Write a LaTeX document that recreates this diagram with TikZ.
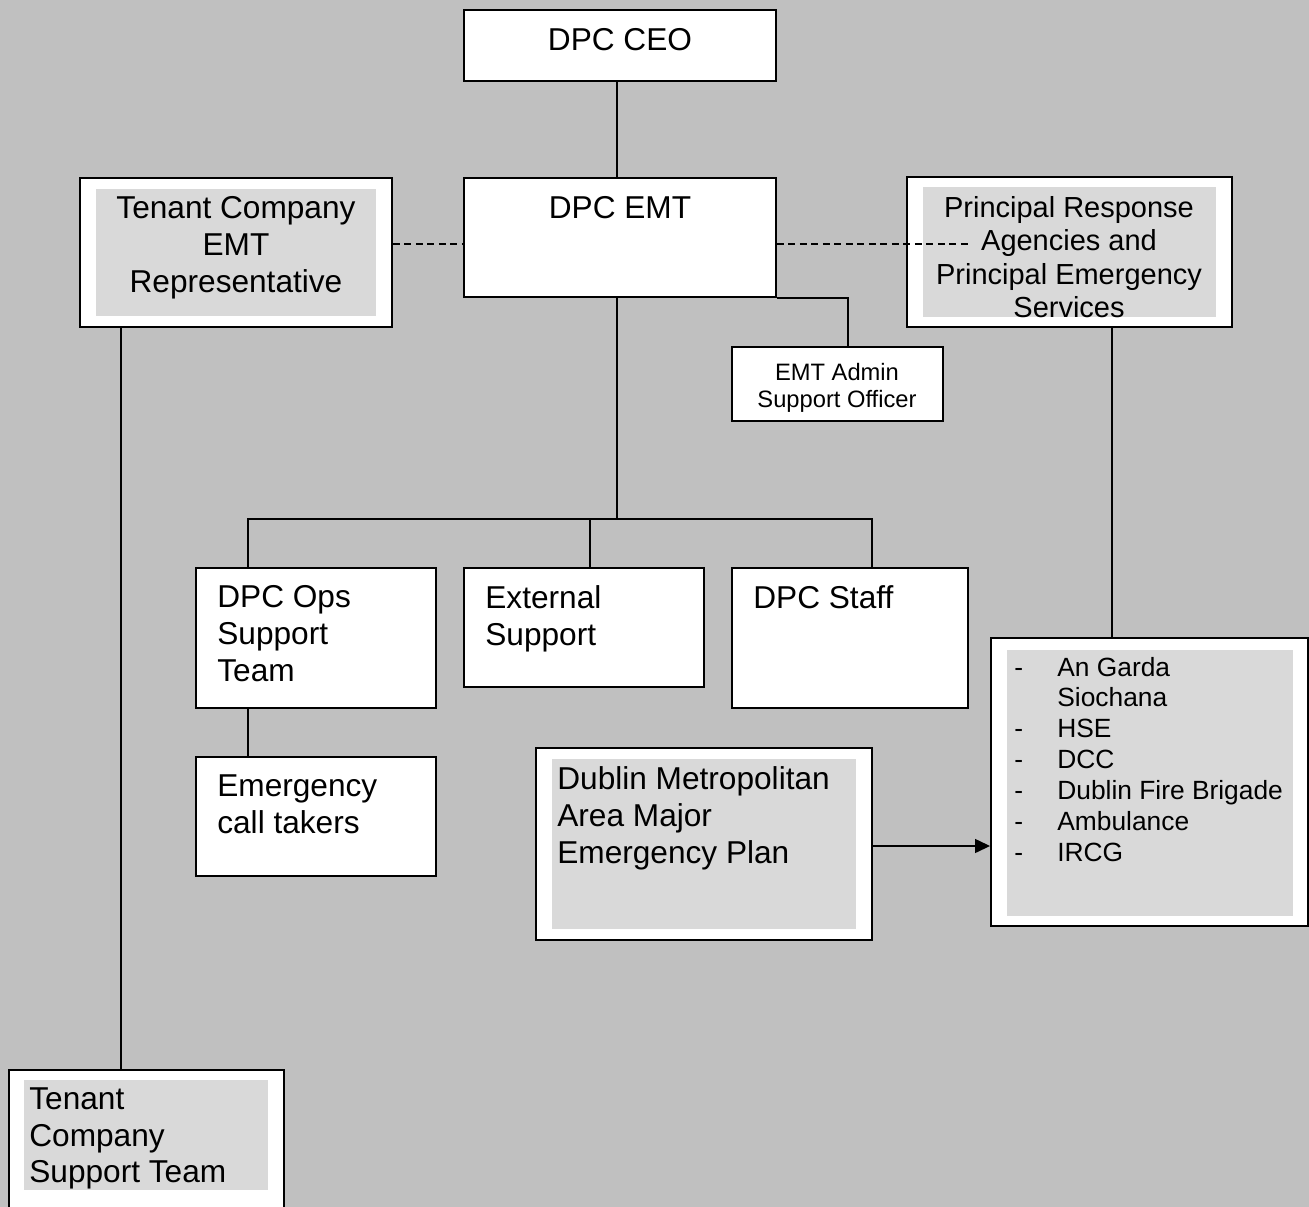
\documentclass[tikz,border=0pt]{standalone}
\usepackage{fontspec}
\setmainfont{Liberation Sans}
\usetikzlibrary{arrows.meta, positioning, fit}
\definecolor{pagegrey}{RGB}{192, 192, 192}
\definecolor{boxgrey}{RGB}{217, 217, 217}

\begin{document}
\begin{tikzpicture}[x=0.02cm, y=-0.02cm, >=Latex,
      b/.style={draw, fill=white, line width=1.1pt, inner sep=0pt},
      g/.style={fill=boxgrey, inner sep=0pt},
      t/.style={inner sep=0pt, font=\fontsize{18}{21}\selectfont},
      link/.style={line width=0.8pt},
      dotted link/.style={link, dash pattern=on 0.14cm off 0.09cm}]
    \clip (0,0) rectangle (1309,1207);
    \fill[pagegrey] (0,0) rectangle (1309,1207);
    % boxes
    \node[b, fit={(464,10) (776,81)}] (ceo) {};
    \node[b, fit={(464,178) (776,297)}] (emt) {};
    \node[b, fit={(80,178) (392,327)}] (rep) {};
    \node[g, fit={(96,189) (376,316)}] (repin) {};
    \node[b, fit={(907,177) (1232,327)}] (pra) {};
    \node[g, fit={(923,187) (1216,317)}] (prain) {};
    \node[b, fit={(732,347) (943,421)}] (admin) {};
    \node[b, fit={(196,568) (436,708)}] (ops) {};
    \node[b, fit={(464,568) (704,687)}] (ext) {};
    \node[b, fit={(732,568) (968,708)}] (staff) {};
    \node[b, fit={(196,757) (436,876)}] (calls) {};
    \node[b, fit={(536,748) (872,940)}] (plan) {};
    \node[g, fit={(552,759) (856,929)}] (planin) {};
    \node[b, fit={(991,638) (1308,926)}] (list) {};
    \node[g, fit={(1007,650) (1293,916)}] (listin) {};
    \node[b, fit={(9,1070) (284,1240)}] (team) {};
    \node[g, fit={(24,1080) (268,1190)}] (teamin) {};
    % connectors
    \coordinate (dashy) at (0,244);
    \coordinate (busl) at (248,519);
    \coordinate (busm) at (590,519);
    \coordinate (busr) at (872,519);
    \coordinate (arry) at (0,846);
    \coordinate (pradash) at (972,244);
    \coordinate (ceox) at (617,0);
    \coordinate (adminx) at (848,0);
    \coordinate (prax) at (1112,0);
    \coordinate (repx) at (121,0);
    \draw[link] (ceo.south -| ceox) -- (emt.north -| ceox);
    \draw[dotted link] (rep.east |- dashy) -- (emt.west |- dashy);
    \draw[dotted link] (emt.east |- dashy) -- (pradash);
    \draw[link] (emt.south east) -| (adminx |- admin.north);
    \draw[link] (emt.south -| ceox) -- (ceox |- busm);
    \draw[link] (ops.north -| busl) -- (busl) -- (busr) -- (staff.north -| busr);
    \draw[link] (busm) -- (ext.north -| busm);
    \draw[link] (ops.south -| busl) -- (calls.north -| busl);
    \draw[link] (pra.south -| prax) -- (list.north -| prax);
    \draw[link] (rep.south -| repx) -- (team.north -| repx);
    \draw[link, -{Triangle[length=0.3cm, width=0.28cm]}] (plan.east |- arry) -- (list.west |- arry);
    % texts
    \node[t, anchor=north] (ceot) at (620,28) {DPC CEO};
    \node[t, anchor=north] (emtt) at (620,196) {DPC EMT};
    \node[t, anchor=north, align=center] (rept) at (236,196) {Tenant Company\\EMT\\Representative};
    \node[t, anchor=north, align=center, font=\fontsize{16.5}{19}\selectfont] (prat) at (1069,196)
      {Principal Response\\Agencies and\\Principal Emergency\\Services};
    \node[t, anchor=north, align=center, font=\fontsize{13.5}{15.3}\selectfont] (admint) at (837,363)
      {EMT Admin\\Support Officer};
    \node[t, anchor=north west, align=left] (opst) at (217,585) {DPC Ops\\Support\\Team};
    \node[t, anchor=north west, align=left] (extt) at (485,585) {External\\Support};
    \node[t, anchor=north west, align=left] (stafft) at (753,585) {DPC Staff};
    \node[t, anchor=north west, align=left] (callst) at (217,774) {Emergency\\call takers};
    \node[t, anchor=north west, align=left] (plant) at (557,766) {Dublin Metropolitan\\Area Major\\Emergency Plan};
    \node[t, anchor=north west, font=\fontsize{15}{17.6}\selectfont] (listt) at (1014,654)
      {\begin{tabular}{@{}p{0.86cm}@{}l@{}}
        - & An Garda\\
          & Siochana\\
        - & HSE\\
        - & DCC\\
        - & Dublin Fire Brigade\\
        - & Ambulance\\
        - & IRCG
      \end{tabular}};
    \node[t, anchor=north west, align=left] (teamt) at (29,1087) {Tenant\\Company\\Support Team};
  \end{tikzpicture}
\end{document}
